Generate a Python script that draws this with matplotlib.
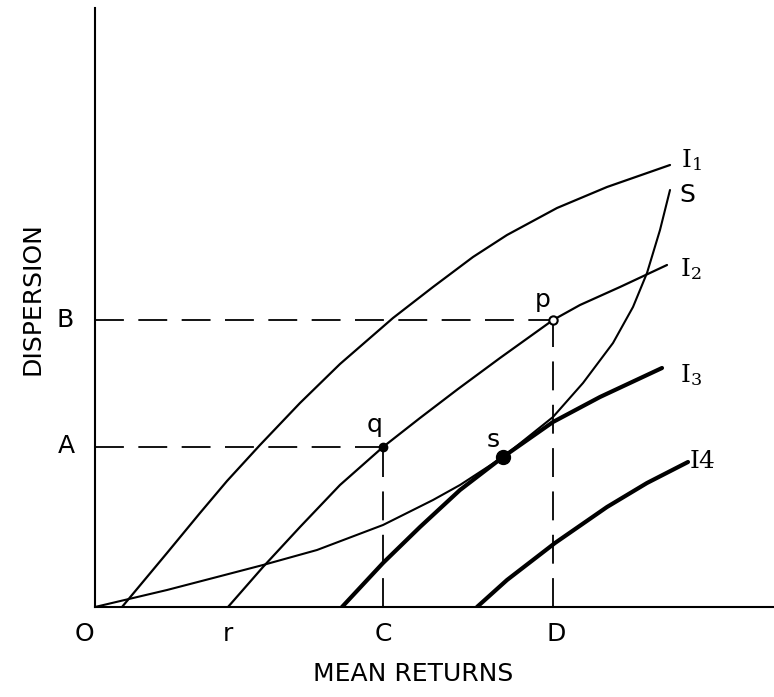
import matplotlib.pyplot as plt

# curves (x = mean return, y = dispersion, arbitrary units)
i1_x = [27, 72, 105, 132, 165, 205, 245, 298, 338, 378, 412, 462, 512, 575]
i1_y = [0, 54, 94, 126, 162, 204, 243, 289, 320, 350, 372, 399, 420, 442]

i2_x = [133, 168, 205, 245, 288, 325, 363, 405, 458, 485, 525, 572]
i2_y = [0, 40, 80, 122, 160, 189, 218, 249, 287, 302, 320, 342]

s_x = [0, 72, 122, 168, 222, 288, 338, 365, 408, 458, 488, 518, 538, 552, 565, 575]
s_y = [0, 17, 30, 42, 57, 82, 107, 122, 150, 190, 224, 264, 300, 334, 377, 417]

i3_x = [247, 288, 325, 365, 408, 458, 505, 567]
i3_y = [0, 44, 80, 117, 150, 185, 210, 239]

i4_x = [382, 412, 460, 512, 552, 593]
i4_y = [0, 27, 64, 100, 124, 145]

# marked points
p_pt = (458, 287)
q_pt = (288, 160)
s_pt = (408, 150)

fig = plt.figure(figsize=(7.74, 6.97), dpi=100)
ax = fig.add_axes([95 / 774, 90 / 697, 679 / 774, 599 / 697])
ax.set_xlim(0, 679)
ax.set_ylim(0, 599)
for side in ['top', 'right']:
    ax.spines[side].set_visible(False)
for side in ['left', 'bottom']:
    ax.spines[side].set_linewidth(1.5)
ax.set_xticks([])
ax.set_yticks([])

ink = 'black'
style = dict(color=ink, solid_capstyle='round', solid_joinstyle='round')
ax.plot(i1_x, i1_y, lw=1.6, **style)
ax.plot(i2_x, i2_y, lw=1.6, **style)
ax.plot(s_x, s_y, lw=1.5, **style)
ax.plot(i3_x, i3_y, lw=3.0, **style)
ax.plot(i4_x, i4_y, lw=3.0, **style)

# dashed guide lines
dash = dict(color=ink, lw=1.3, dashes=(16, 8))
ax.plot([0, p_pt[0]], [p_pt[1], p_pt[1]], **dash)
ax.plot([p_pt[0], p_pt[0]], [0, p_pt[1]], **dash)
ax.plot([0, q_pt[0]], [q_pt[1], q_pt[1]], **dash)
ax.plot([q_pt[0], q_pt[0]], [0, q_pt[1]], **dash)

ax.plot(*p_pt, 'o', ms=6, mfc='white', mec=ink, mew=1.5)
ax.plot(*q_pt, 'o', ms=6, color=ink)
ax.plot(*s_pt, 'o', ms=10, color=ink)

fs = 18
txt = dict(ha='center', va='center', fontsize=fs, color=ink)
ax.text(-11, -27, 'O', **txt)
ax.text(133, -27, 'r', **txt)
ax.text(288, -27, 'C', **txt)
ax.text(461, -27, 'D', **txt)
ax.text(-30, 287, 'B', **txt)
ax.text(-29, 161, 'A', **txt)
ax.text(318, -67, 'MEAN RETURNS', **txt)
ax.text(-62, 308, 'DISPERSION', rotation=90, **txt)

ax.text(448, 307, 'p', **txt)
ax.text(280, 182, 'q', **txt)
ax.text(398, 167, 's', **txt)

ser = dict(txt, fontfamily='DejaVu Serif')
ax.text(596, 447, r'$\mathregular{I_1}$', **ser)
ax.text(592, 412, 'S', **txt)
ax.text(596, 338, r'$\mathregular{I_2}$', **ser)
ax.text(596, 232, r'$\mathregular{I_3}$', **ser)
ax.text(607, 145, r'I$\mathregular{4}$', **ser)

fig.savefig('out.png', dpi=100)
